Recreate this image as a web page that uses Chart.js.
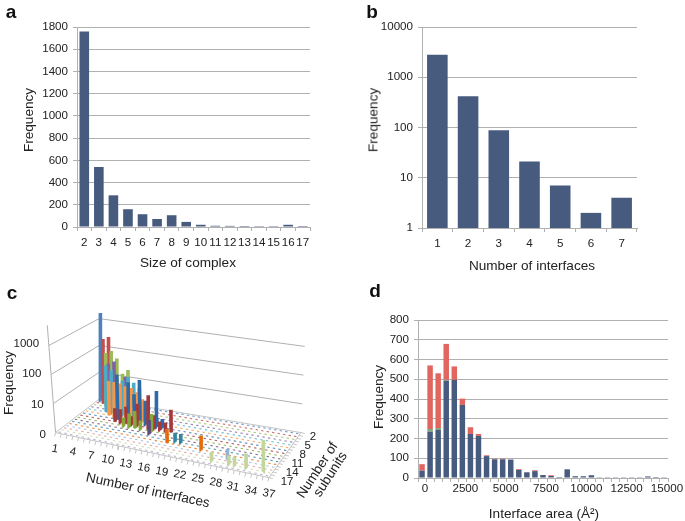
<!DOCTYPE html>
<html>
  <head>
    <script src="https://cdnjs.cloudflare.com/ajax/libs/Chart.js/4.4.1/chart.umd.min.js"></script>
    <style>
      body {
        font-family: "Liberation Sans", Arial, sans-serif;
        margin: 0;
        background: #fff;
        width: 685px;
        height: 521px;
        overflow: hidden;
        position: relative;
      }
      canvas {
        position: absolute;
      }
      .panel {
        position: absolute;
      }
      .label {
        position: absolute;
        white-space: nowrap;
        color: #222;
        font-size: 13.6px;
        transform: translate(-50%, -50%);
      }
      .letter {
        font-weight: bold;
        font-size: 19px;
        color: #111;
      }
      .tick3d {
        font-size: 11.5px;
      }
    </style>
  </head>
  <body>
    <div class="panel" style="left:0;top:0;width:340px;height:270px"><canvas id="chartA"></canvas></div>
    <div class="panel" style="left:340px;top:0;width:345px;height:270px"><canvas id="chartB"></canvas></div>
    <div class="panel" style="left:0;top:280px;width:340px;height:241px"><canvas id="chartC"></canvas></div>
    <div class="panel" style="left:340px;top:280px;width:345px;height:241px"><canvas id="chartD"></canvas></div>

    <script>
      // panel a
      const complexSizes = ['2', '3', '4', '5', '6', '7', '8', '9', '10', '11', '12', '13', '14', '15', '16', '17'];
      const complexFrequency = [1760, 540, 285, 160, 115, 72, 106, 46, 20, 11, 10, 9, 8, 8, 20, 9];

      // panel b
      const interfaceCounts = ['1', '2', '3', '4', '5', '6', '7'];
      const interfaceFrequency = [2800, 420, 88, 21, 7, 2, 4];

      // panel c, one entry per bar
      const barInterfaces = [1, 2, 3, 3, 4, 5, 4, 5, 5, 6, 4, 5, 6, 7, 7, 8, 8, 9, 9, 11, 12, 14, 13, 14, 14, 14, 14, 15, 15, 16, 17, 18, 19, 20, 24, 27, 29, 30, 31, 33, 36, 9, 7, 8, 9, 11, 12, 10, 7, 9, 11, 10, 7, 7, 10, 11, 10, 10];
      const barSubunits = [2, 3, 3, 4, 4, 4, 5, 5, 6, 4, 6, 7, 7, 6, 7, 6, 7, 6, 7, 8, 8, 8, 9, 9, 10, 11, 8, 8, 9, 9, 9, 13, 12, 12, 13, 16, 14, 16, 16, 16, 16, 9, 9, 9, 10, 10, 10, 9, 8, 8, 9, 10, 4, 5, 7, 7, 8, 6];
      const barFrequency = [1800, 240, 310, 92, 118, 67, 48, 62, 35, 20, 48, 17, 17, 17, 16, 25, 14, 17, 13, 35, 7, 18, 14, 3, 4, 3, 2, 2, 2, 2, 6, 3, 2, 2, 3, 2, 2, 2, 2, 3, 11, 4, 3, 3, 2, 4, 2, 2, 40, 25, 6, 3, 30, 20, 10, 6, 10, 12];
      const interfaceTicks = [1, 4, 7, 10, 13, 16, 19, 22, 25, 28, 31, 34, 37];
      const subunitTicks = [2, 5, 8, 11, 14, 17];
      const frequencyTicks = [1, 10, 100, 1000];
      const frequencyTickLabels = ['0', '10', '100', '1000'];
      // Excel 3D series colours for subunits 2..17
      const subunitColors = ['#4f81bd', '#c0504d', '#9bbb59', '#8064a2', '#4bacc6', '#f79646', '#2c6aa8', '#a5383a', '#84a83c', '#604a7b', '#31859c', '#e46c0a', '#95b3d7', '#d99694', '#c3d69b', '#b3a2c7'];

      // panel d
      const areaBins = [0, 500, 1000, 1500, 2000, 2500, 3000, 3500, 4000, 4500, 5000, 5500, 6000, 6500, 7000, 7500, 8000, 8500, 9000, 9500, 10000, 10500, 11000, 11500, 12000, 12500, 13000, 13500, 14000, 14500, 15000];
      const areaBlue = [37, 235, 243, 493, 497, 370, 223, 213, 111, 95, 95, 93, 41, 29, 35, 15, 10, 5, 44, 9, 9, 14, 4, 1, 1, 4, 1, 1, 8, 5, 4];
      const areaGreen = [0, 13, 10, 4, 0, 0, 0, 0, 0, 0, 0, 0, 0, 0, 0, 0, 0, 0, 0, 0, 0, 0, 0, 0, 0, 0, 0, 0, 0, 0, 0];
      const areaRed = [33, 322, 277, 182, 68, 32, 34, 10, 4, 3, 3, 1, 4, 0, 4, 0, 4, 0, 0, 0, 0, 0, 0, 0, 0, 0, 0, 0, 0, 0, 0];

      const barColor = '#475b7e';
      const gridColor = '#b0b0b0';
      const textColor = '#222';
      const tickFont = { family: '"Liberation Sans", Arial, sans-serif', size: 11.6 };

      Chart.defaults.animation = false;
      Chart.defaults.responsive = false;
      Chart.defaults.plugins.legend.display = false;
      Chart.defaults.plugins.tooltip.enabled = false;

      function addLabel(text, x, y, rotate, className) {
        const el = document.createElement('div');
        el.className = 'label' + (className ? ' ' + className : '');
        el.textContent = text;
        el.style.left = x + 'px';
        el.style.top = y + 'px';
        if (rotate) el.style.transform = 'translate(-50%, -50%) rotate(' + rotate + 'deg)';
        document.body.appendChild(el);
      }

      function sizeCanvas(id, w, h) {
        const canvas = document.getElementById(id);
        canvas.width = w;
        canvas.height = h;
        return canvas;
      }

      function categoryLabel(value) {
        return this.getLabelForValue(value);
      }

      function plainNumber(value) {
        return String(value);
      }

      function makeXAxis(axisHeight, padding, callback) {
        return {
          afterFit: function(scale) { scale.height = axisHeight; },
          border: { color: gridColor },
          grid: { drawOnChartArea: false, offset: true, color: gridColor, tickLength: 4 },
          ticks: { color: textColor, font: tickFont, autoSkip: false, maxRotation: 0, padding: padding, callback: callback || categoryLabel }
        };
      }

      function makeYAxis(axisWidth, extra) {
        return Object.assign({
          afterFit: function(scale) { scale.width = axisWidth; },
          border: { color: gridColor },
          grid: { color: gridColor, tickLength: 4 }
        }, extra);
      }

      // a
      new Chart(sizeCanvas('chartA', 340, 270), {
        type: 'bar',
        data: {
          labels: complexSizes,
          datasets: [{ data: complexFrequency, backgroundColor: barColor, barPercentage: 0.66, categoryPercentage: 1 }]
        },
        options: {
          layout: { padding: { top: 27, right: 30 } },
          scales: {
            x: makeXAxis(43, 5),
            y: makeYAxis(77, { min: 0, max: 1800, ticks: { color: textColor, font: tickFont, padding: 5, stepSize: 200, callback: plainNumber } })
          }
        }
      });

      // b
      new Chart(sizeCanvas('chartB', 345, 270), {
        type: 'bar',
        data: {
          labels: interfaceCounts,
          datasets: [{ data: interfaceFrequency, backgroundColor: barColor, barPercentage: 0.67, categoryPercentage: 1 }]
        },
        options: {
          layout: { padding: { top: 27, right: 48 } },
          scales: {
            x: makeXAxis(42, 5),
            y: makeYAxis(82, {
              type: 'logarithmic',
              min: 1,
              max: 10000,
              afterBuildTicks: function(scale) {
                scale.ticks = [1, 10, 100, 1000, 10000].map(function(v) { return { value: v }; });
              },
              ticks: { color: textColor, font: tickFont, padding: 5, callback: plainNumber }
            })
          }
        }
      });

      // c, 3D look: project (interfaces, subunits, frequency) onto the flat canvas
      const floorBackLeft = [97, 119], floorBackRight = [305, 154], floorFrontLeft = [52, 154], floorFrontRight = [272, 201];
      const riseBackLeft = [0, -28], riseBackRight = [1.3, -30], riseFrontLeft = [-2.3, -30.3], riseFrontRight = [0, -32];

      function bilinear(p00, p10, p01, p11, s, t) {
        return [0, 1].map(function(k) {
          return p00[k] * (1 - s) * (1 - t) + p10[k] * s * (1 - t) + p01[k] * (1 - s) * t + p11[k] * s * t;
        });
      }

      function project(iface, subunit, freq) {
        const s = (iface - 0.5) / 37;
        const t = (subunit - 1.5) / 16;
        const base = bilinear(floorBackLeft, floorBackRight, floorFrontLeft, floorFrontRight, s, t);
        const rise = bilinear(riseBackLeft, riseBackRight, riseFrontLeft, riseFrontRight, s, t);
        const decades = Math.log10(freq);
        return { x: base[0] + rise[0] * decades, y: base[1] + rise[1] * decades };
      }

      function lineSet(a, b, color, width, order) {
        return { data: [a, b], showLine: true, pointRadius: 0, borderColor: color, borderWidth: width, order: order };
      }

      const datasetsC = [];
      const iMin = 0.5, iMax = 37.5, jMin = 1.5, jMax = 17.5;

      // wall grid lines and the vertical axis
      frequencyTicks.forEach(function(f) {
        const back = project(iMin, jMin, f);
        if (f > 1) {
          datasetsC.push(lineSet(project(iMin, jMax, f), back, gridColor, 1, 900));
          datasetsC.push(lineSet(back, project(iMax, jMin, f), gridColor, 1, 900));
        }
      });
      datasetsC.push(lineSet(project(iMin, jMax, 1), project(iMin, jMax, 5000), gridColor, 1, 900));

      // floor outline and its tick marks
      const floorLine = '#c4c4c4';
      datasetsC.push(lineSet(project(iMin, jMin, 1), project(iMax, jMin, 1), floorLine, 1, 880));
      datasetsC.push(lineSet(project(iMin, jMin, 1), project(iMin, jMax, 1), floorLine, 1, 880));
      datasetsC.push(lineSet(project(iMin, jMax, 1), project(iMax, jMax, 1), floorLine, 1, 880));
      datasetsC.push(lineSet(project(iMax, jMax, 1), project(iMax, jMin, 1), floorLine, 1, 880));
      for (let i = 0; i <= 37; i++) {
        const p = project(i + 0.5, jMax, 1);
        datasetsC.push(lineSet(p, { x: p.x - 1, y: p.y + 4 }, floorLine, 1, 880));
      }
      for (let j = 2; j <= 18; j++) {
        const p = project(iMax, j - 0.5, 1);
        datasetsC.push(lineSet(p, { x: p.x + 4, y: p.y + 1 }, floorLine, 1, 880));
      }

      // zero height bars show as coloured dashes on the floor
      subunitColors.forEach(function(color, n) {
        const subunit = n + 2;
        const points = [];
        for (let i = 1; i <= 37; i++) points.push(project(i, subunit, 1));
        datasetsC.push({
          data: points,
          pointStyle: 'line',
          pointRadius: 1.2,
          pointRotation: 10,
          pointBorderWidth: 1.1,
          pointBorderColor: color + 'cc',
          order: 800
        });
      });

      barInterfaces.forEach(function(iface, n) {
        const subunit = barSubunits[n];
        datasetsC.push(lineSet(
          project(iface, subunit, 1),
          project(iface, subunit, barFrequency[n]),
          subunitColors[subunit - 2],
          3.6,
          700 - subunit * 30 - iface
        ));
      });

      new Chart(sizeCanvas('chartC', 340, 241), {
        type: 'scatter',
        data: { datasets: datasetsC },
        options: {
          scales: {
            x: { display: false, min: 0, max: 340 },
            y: { display: false, min: 0, max: 241, reverse: true }
          }
        }
      });

      // d
      const xAxisD = makeXAxis(43, 0, function(value, index) {
        return index % 5 === 0 ? areaBins[index] : '';
      });
      xAxisD.stacked = true;
      xAxisD.ticks.labelOffset = 3;

      new Chart(sizeCanvas('chartD', 345, 241), {
        type: 'bar',
        data: {
          labels: areaBins,
          datasets: [
            { data: areaBlue, backgroundColor: barColor, barPercentage: 0.68, categoryPercentage: 1 },
            { data: areaGreen, backgroundColor: '#7fa77d', barPercentage: 0.68, categoryPercentage: 1 },
            { data: areaRed, backgroundColor: '#e0665f', barPercentage: 0.68, categoryPercentage: 1 }
          ]
        },
        options: {
          layout: { padding: { top: 40, right: 17 } },
          scales: {
            x: xAxisD,
            y: makeYAxis(78, { stacked: true, min: 0, max: 800, ticks: { color: textColor, font: tickFont, padding: 5, stepSize: 100, callback: plainNumber } })
          }
        }
      });

      // panel letters
      addLabel('a', 11, 12, 0, 'letter');
      addLabel('b', 372, 12, 0, 'letter');
      addLabel('c', 12, 293, 0, 'letter');
      addLabel('d', 375, 291, 0, 'letter');

      // axis titles
      addLabel('Frequency', 28, 120, -90);
      addLabel('Size of complex', 188, 262);
      addLabel('Frequency', 373, 120, -90);
      addLabel('Number of interfaces', 532, 265);
      addLabel('Frequency', 8, 383, -90);
      addLabel('Number of interfaces', 148, 490, 12);
      addLabel('Number of', 317, 470, -57);
      addLabel('subunits', 330, 474, -57);
      addLabel('Frequency', 378, 397, -90);
      addLabel('Interface area (Å²)', 544, 513);

      // panel c tick labels follow the projection
      const panelTop = 280;
      frequencyTicks.forEach(function(f, n) {
        const p = project(iMin, jMax, f);
        const el = frequencyTickLabels[n];
        addLabel(el, p.x - 6 - el.length * 3.2, p.y + panelTop, 0, 'tick3d');
      });
      interfaceTicks.forEach(function(iface) {
        const p = project(iface, jMax, 1);
        addLabel(String(iface), p.x, p.y + panelTop + 13, 10, 'tick3d');
      });
      subunitTicks.forEach(function(subunit, n) {
        const p = project(iMax, subunit, 1);
        addLabel(String(subunit), p.x + 9 + n, p.y + panelTop + 1, 0, 'tick3d');
      });
    </script>
  </body>
</html>
